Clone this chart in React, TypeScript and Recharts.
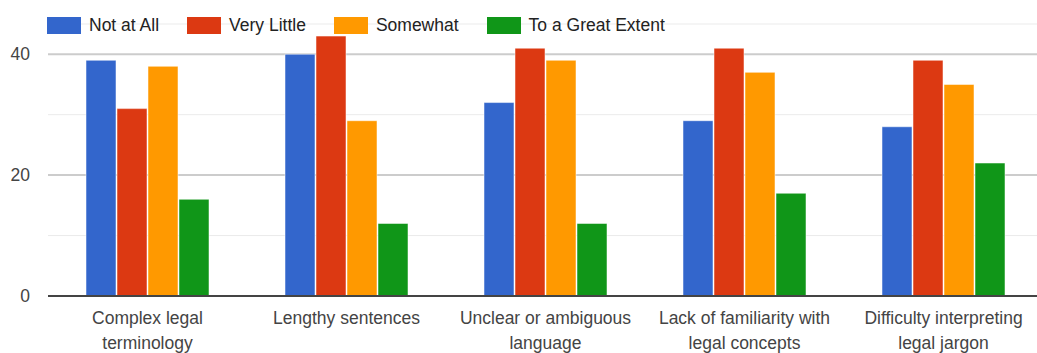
import { BarChart, Bar, XAxis, YAxis, CartesianGrid } from "recharts";

const categories = [
  "Complex legal terminology",
  "Lengthy sentences",
  "Unclear or ambiguous language",
  "Lack of familiarity with legal concepts",
  "Difficulty interpreting legal jargon",
];

// wrapped tick text, one entry per category
const tickLines = [
  ["Complex legal", "terminology"],
  ["Lengthy sentences"],
  ["Unclear or ambiguous", "language"],
  ["Lack of familiarity with", "legal concepts"],
  ["Difficulty interpreting", "legal jargon"],
];

const notAtAll = [39, 40, 32, 29, 28];
const veryLittle = [31, 43, 41, 41, 39];
const somewhat = [38, 29, 39, 37, 35];
const greatExtent = [16, 12, 12, 17, 22];

const yTicks = [0, 10, 20, 30, 40];
const yLabels = [0, 20, 40];

const series = [
  { key: "notAtAll", name: "Not at All", color: "#3366cc" },
  { key: "veryLittle", name: "Very Little", color: "#dc3912" },
  { key: "somewhat", name: "Somewhat", color: "#ff9900" },
  { key: "greatExtent", name: "To a Great Extent", color: "#109618" },
];

const data = categories.map((name, i) => ({
  name,
  notAtAll: notAtAll[i],
  veryLittle: veryLittle[i],
  somewhat: somewhat[i],
  greatExtent: greatExtent[i],
}));

const FONT = "'Liberation Sans', Arial, sans-serif";

const XTick = ({ x, y, index }: any) => (
  <text x={x} y={y} textAnchor="middle" fill="#444" fontSize={17.5} fontFamily={FONT}>
    {tickLines[index].map((line, i) => (
      <tspan key={i} x={x} dy={i === 0 ? 28 : 24.5}>
        {line}
      </tspan>
    ))}
  </text>
);

const YTick = ({ x, y, payload }: any) => {
  if (!yLabels.includes(payload.value)) return null;
  return (
    <text x={x - 18} y={y} dy="0.35em" textAnchor="end" fill="#444" fontSize={17.5} fontFamily={FONT}>
      {payload.value}
    </text>
  );
};

// major lines at 20/40, faint ones in between, baseline comes from the x axis
const GridLine = (props: any) => {
  const { x1, x2, y1, y2, index } = props;
  if (index === 0) return null;
  const major = index % 2 === 0;
  return (
    <line
      key={`g-${index}`}
      x1={x1}
      x2={x2}
      y1={y1}
      y2={y2}
      stroke={major ? "#cccccc" : "#ebebeb"}
      strokeWidth={major ? 2 : 1}
    />
  );
};

export default function App() {
  return (
    <div
      style={{
        position: "absolute",
        left: 0,
        top: 0,
        width: 1037,
        height: 353,
        overflow: "hidden",
        background: "#fff",
      }}
    >
      <div
        style={{
          position: "absolute",
          left: 47,
          top: 17,
          display: "flex",
          alignItems: "center",
          fontFamily: FONT,
          fontSize: 17.5,
          color: "#222",
          zIndex: 2,
        }}
      >
        {series.map((s) => (
          <div key={s.key} style={{ display: "flex", alignItems: "center", marginRight: 28 }}>
            <div style={{ width: 34, height: 17, background: s.color, marginRight: 8 }} />
            <span style={{ lineHeight: "17px" }}>{s.name}</span>
          </div>
        ))}
      </div>
      <BarChart
        width={1043}
        height={353}
        data={data}
        margin={{ top: 24, right: 0, bottom: 0, left: 0 }}
        barCategoryGap={38}
        barGap={1}
      >
        <CartesianGrid vertical={false} horizontal={GridLine} />
        <XAxis
          dataKey="name"
          height={57}
          interval={0}
          tickLine={false}
          tickSize={0}
          tickMargin={0}
          axisLine={{ stroke: "#444", strokeWidth: 2 }}
          tick={<XTick />}
        />
        <YAxis
          width={48}
          domain={[0, 45]}
          ticks={yTicks}
          interval={0}
          axisLine={false}
          tickLine={false}
          tickSize={0}
          tickMargin={0}
          tick={<YTick />}
        />
        {series.map((s) => (
          <Bar
            key={s.key}
            dataKey={s.key}
            name={s.name}
            fill={s.color}
            stroke="#ffffff"
            strokeOpacity={0.5}
            strokeWidth={1}
            isAnimationActive={false}
          />
        ))}
      </BarChart>
    </div>
  );
}
